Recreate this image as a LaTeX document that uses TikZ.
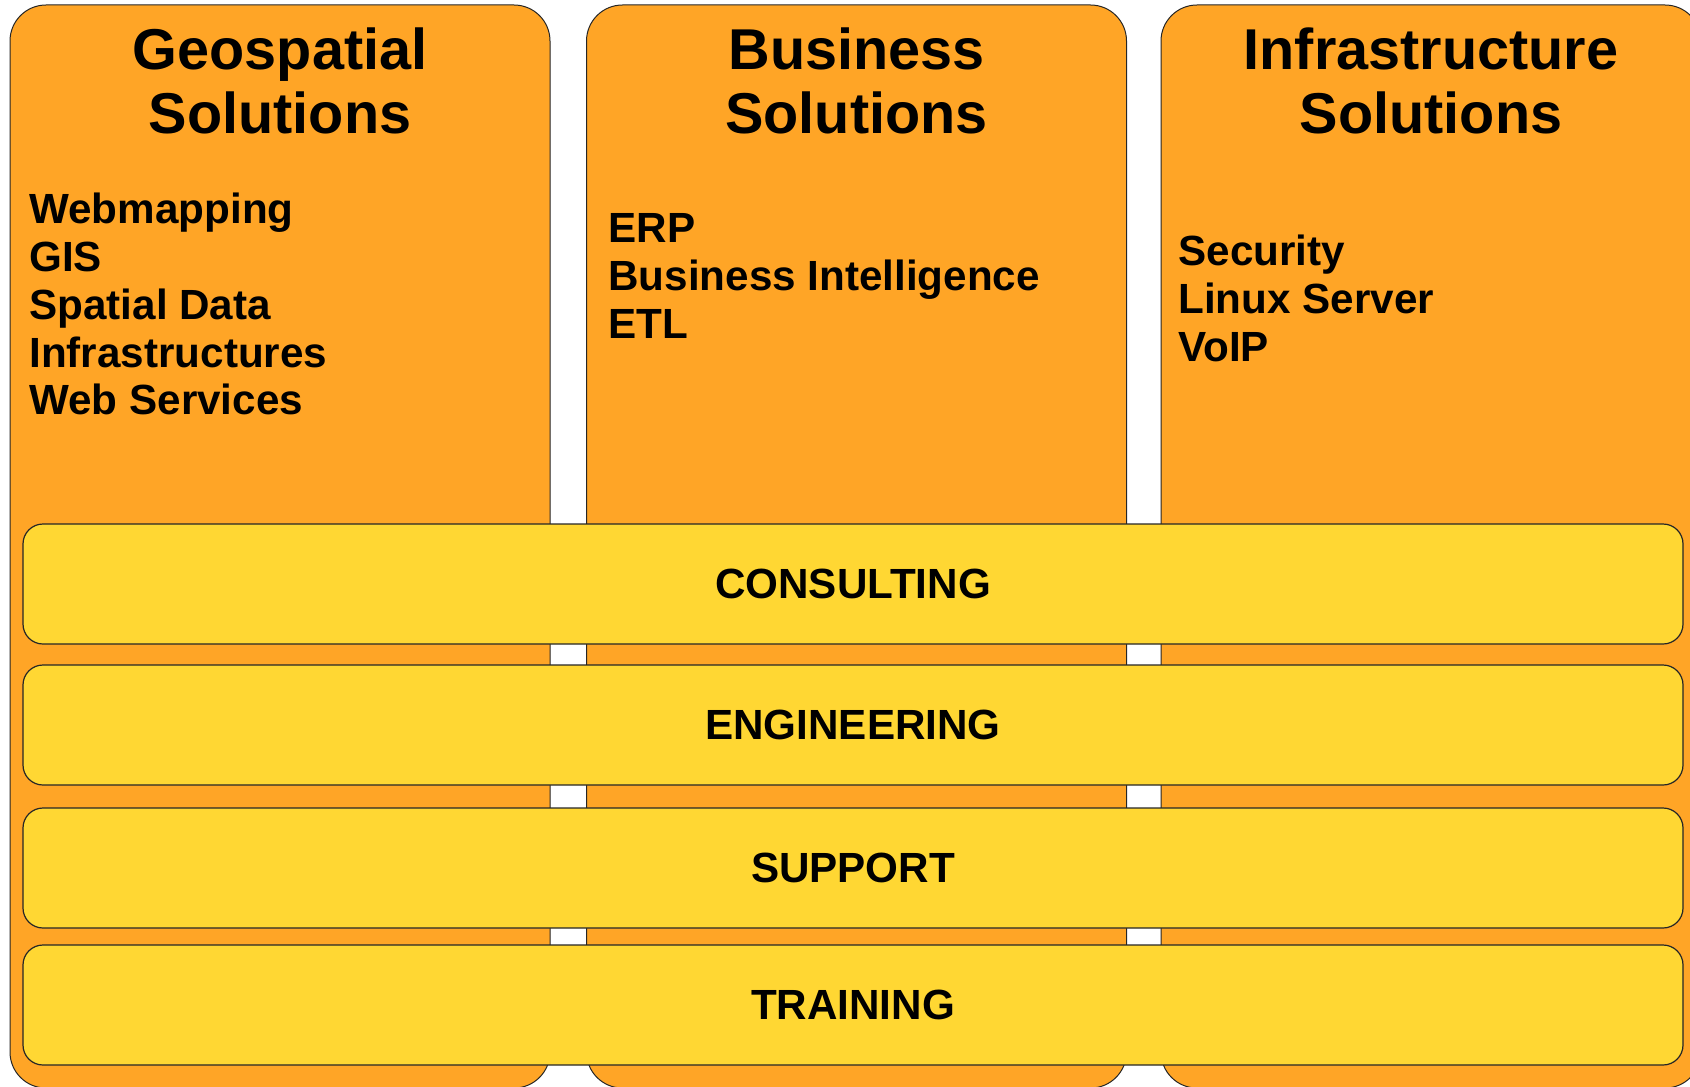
\documentclass[tikz,border=0pt]{standalone}
\usepackage{fontspec}
\setmainfont{Liberation Sans}
\usepackage{tikz}

\definecolor{colorange}{RGB}{255,165,38}
\definecolor{bandyellow}{RGB}{255,215,51}

\begin{document}
\begin{tikzpicture}[x=0.5pt, y=-0.5pt, font=\bfseries,
    column/.style={draw=black!85, line width=0.5pt, fill=colorange,
      rounded corners=18pt, minimum width=270pt, minimum height=541.5pt},
    band/.style={draw=black!85, line width=0.6pt, fill=bandyellow,
      rounded corners=10pt, minimum width=830pt, minimum height=60pt,
      font=\bfseries\fontsize{21.1pt}{23.85pt}\selectfont},
    title/.style={anchor=north, align=center, inner sep=0pt,
      font=\bfseries\fontsize{28.8pt}{32.4pt}\selectfont},
    items/.style={anchor=north west, align=left, inner sep=0pt,
      font=\bfseries\fontsize{21.1pt}{23.85pt}\selectfont}]
  \useasboundingbox (0,0) rectangle (1690,1086);
  \clip (0,0) rectangle (1690,1086);

  % three solution columns
  \foreach \n/\cx in {geo/280, bus/856.5, infra/1431}{
    \node[column] (\n) at (\cx,546.5) {};
  }

  % column titles
  \node[title] (geo-t) at (280,27) {Geospatial\\Solutions};
  \node[title] (bus-t) at (856.5,27) {Business\\Solutions};
  \node[title] (infra-t) at (1431,27) {Infrastructure\\Solutions};

  % column contents
  \node[items] (geo-l) at (29,193)
    {Webmapping\\GIS\\Spatial Data\\Infrastructures\\Web Services};
  \node[items] (bus-l) at (608,213.5)
    {ERP\\Business Intelligence\\ETL};
  \node[items] (infra-l) at (1178,235)
    {Security\\Linux Server\\VoIP};

  % service bands across all columns
  \foreach \n/\t/\cy in {cons/CONSULTING/584, eng/ENGINEERING/725,
                         sup/SUPPORT/868, train/TRAINING/1005}{
    \node[band] (\n) at (853,\cy) {\t};
  }
\end{tikzpicture}
\end{document}
